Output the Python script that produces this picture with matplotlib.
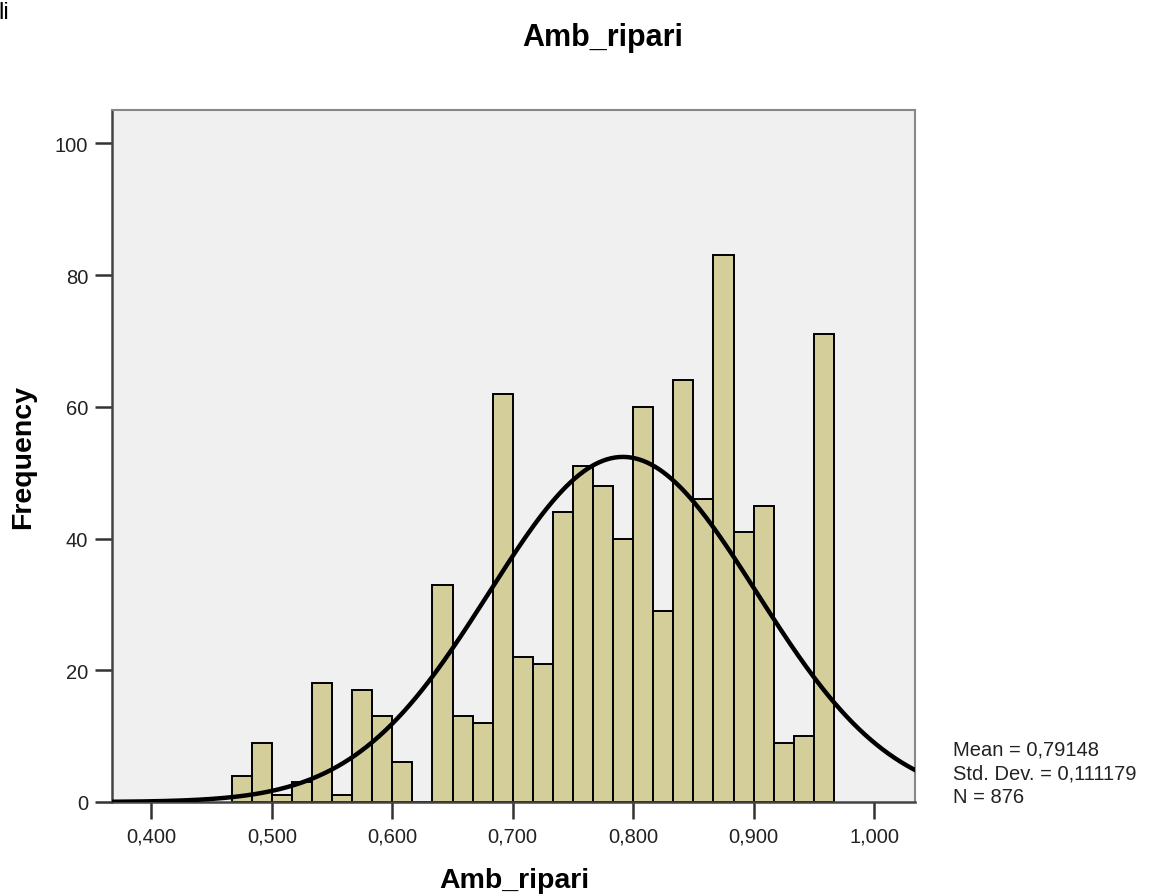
import numpy as np
import matplotlib
matplotlib.use('Agg')
import matplotlib.pyplot as plt

plt.rcParams['font.family'] = ['Liberation Sans', 'DejaVu Sans']

# histogram data (bins of width 1/60 starting at 28/60)
bin_start = 28 / 60
bin_width = 1 / 60
counts = [4, 9, 1, 3, 18, 1, 17, 13, 6, 0,
          33, 13, 12, 62, 22, 21, 44, 51, 48, 40,
          60, 29, 64, 46, 83, 41, 45, 9, 10, 71]

mean = 0.79148
std_dev = 0.111179
n_obs = 876

x_ticks = [0.4, 0.5, 0.6, 0.7, 0.8, 0.9, 1.0]
x_tick_labels = ['0,400', '0,500', '0,600', '0,700', '0,800', '0,900', '1,000']
y_ticks = [0, 20, 40, 60, 80, 100]

stats_lines = ['Mean = 0,79148', 'Std. Dev. = 0,111179', 'N = 876']

fig = plt.figure(figsize=(11.74, 8.95), dpi=100)
ax = fig.add_axes([0.0951, 0.1028, 0.6843, 0.7735])
ax.set_facecolor('#f0f0f0')

lefts = bin_start + bin_width * np.arange(len(counts))
ax.bar(lefts, counts, width=bin_width, align='edge',
       color='#d4cf9a', edgecolor='black', linewidth=1.4, zorder=2)

# normal curve scaled to counts
xlim = (0.367, 1.034)
xs = np.linspace(xlim[0], xlim[1], 400)
ys = n_obs * bin_width / (std_dev * np.sqrt(2 * np.pi)) * np.exp(-0.5 * ((xs - mean) / std_dev) ** 2)
ax.plot(xs, ys, color='black', linewidth=3.2, zorder=3)

ax.set_xlim(*xlim)
ax.set_ylim(0, 105.1)
ax.set_xticks(x_ticks)
ax.set_xticklabels(x_tick_labels)
ax.set_yticks(y_ticks)
ax.tick_params(axis='both', direction='out', length=12, width=1.8,
               color='#333333', labelsize=14.5, labelcolor='#222222')
ax.tick_params(axis='y', pad=5)
ax.tick_params(axis='x', pad=6)

for side in ['left', 'bottom']:
    ax.spines[side].set_color('#444444')
    ax.spines[side].set_linewidth(1.8)
for side in ['top', 'right']:
    ax.spines[side].set_color('#888888')
    ax.spines[side].set_linewidth(1.5)

# titles and labels
fig.text(0.513, 0.957, 'Amb_ripari', ha='center', va='center',
         fontsize=22, fontweight='bold')
fig.text(514 / 1174, 1 - 888 / 895, 'Amb_ripari', ha='center', va='baseline',
         fontsize=20.5, fontweight='bold')
fig.text(23 / 1174, 1 - 457 / 895, 'Frequency', ha='center', va='center',
         rotation=90, fontsize=20.5, fontweight='bold')
# cut-off text fragment in the top-left corner
fig.text(-0.001, 1 - 19 / 895, 'li', ha='left', va='baseline', fontsize=17)

for i, line in enumerate(stats_lines):
    fig.text(953 / 1174, 1 - (756 + 23.5 * i) / 895, line,
             ha='left', va='baseline', fontsize=14.5, color='#222222')

fig.savefig('out.png', dpi=100)
